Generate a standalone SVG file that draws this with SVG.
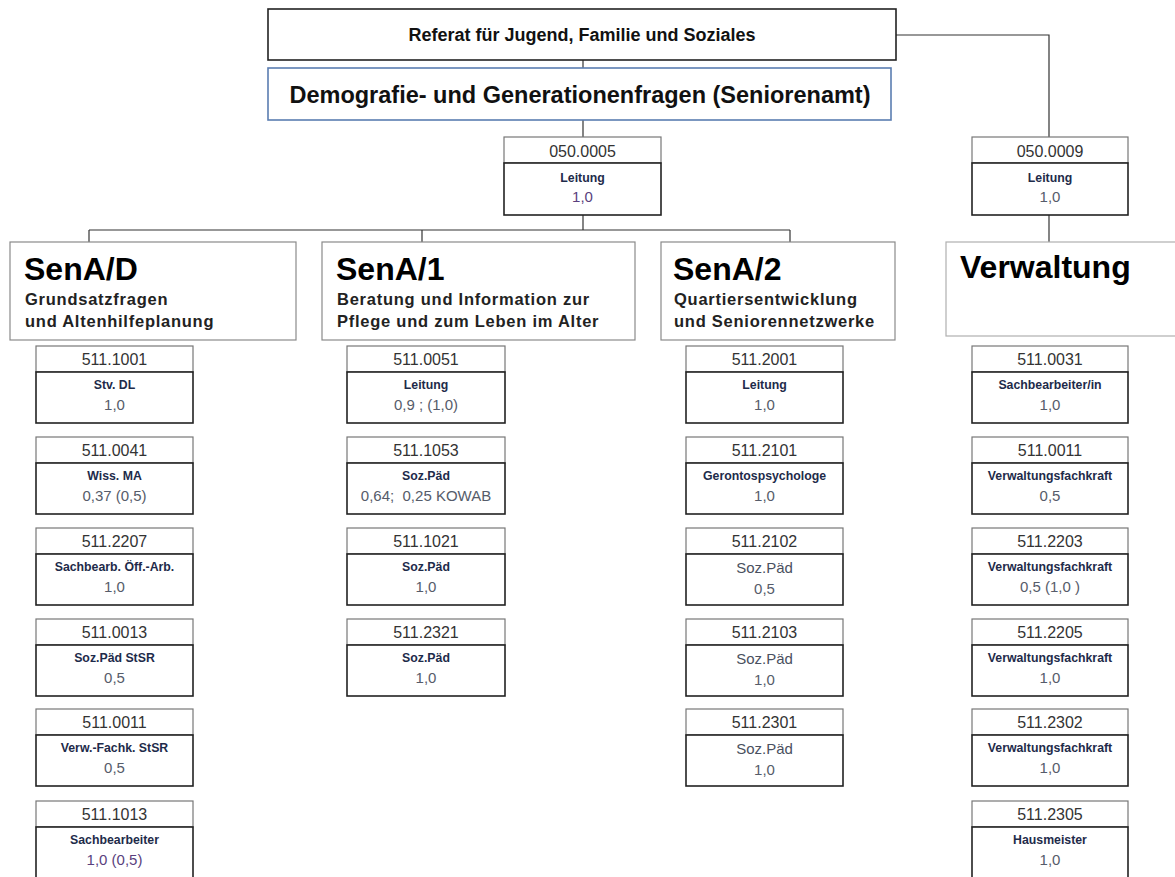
<svg xmlns="http://www.w3.org/2000/svg" width="1175" height="877" viewBox="0 0 1175 877">
<style>
.bg{fill:#ffffff}
.conn{stroke:#333;stroke-width:1.2;fill:none}
.top{fill:#fff;stroke:#222;stroke-width:1.6}
.demo{fill:#fff;stroke:#5b7db1;stroke-width:1.6}
.sec{fill:#fff;stroke:#8a8a8a;stroke-width:1.2}
.secv{fill:#fff;stroke:#b0b0b0;stroke-width:1.2}
.hd{fill:#fff;stroke:#777;stroke-width:1.2}
.bd{fill:#fff;stroke:#222;stroke-width:1.6}
.t1{font-family:"Liberation Sans",Arial,sans-serif;font-weight:bold;font-size:18px;fill:#111;text-anchor:middle}
.t2{font-family:"Liberation Sans",Arial,sans-serif;font-weight:bold;font-size:23.5px;fill:#111;text-anchor:middle}
.big{font-family:"Liberation Sans",Arial,sans-serif;font-weight:bold;font-size:32px;fill:#000}
.sub{font-family:"Liberation Sans",Arial,sans-serif;font-weight:bold;font-size:16.5px;letter-spacing:0.75px;fill:#222}
.code{font-family:"Liberation Sans",Arial,sans-serif;font-size:16px;fill:#333;text-anchor:middle}
.lab{font-family:"Liberation Sans",Arial,sans-serif;font-weight:bold;font-size:12.3px;fill:#1e2b4a;text-anchor:middle}
.labn{font-family:"Liberation Sans",Arial,sans-serif;font-size:15px;fill:#4a5060;text-anchor:middle}
.val{font-family:"Liberation Sans",Arial,sans-serif;font-size:15px;fill:#565c6a;text-anchor:middle}
.valp{font-family:"Liberation Sans",Arial,sans-serif;font-size:15px;fill:#5a3f7e;text-anchor:middle}
</style>
<rect class="bg" x="0" y="0" width="1175" height="877"/>
<g id="connectors">
<line class="conn" x1="583" y1="60" x2="583" y2="68"/>
<line class="conn" x1="583" y1="120" x2="583" y2="137"/>
<line class="conn" x1="583" y1="215" x2="583" y2="230"/>
<polyline class="conn" points="896,35 1049,35 1049,137"/>
<line class="conn" x1="1049" y1="215" x2="1049" y2="242"/>
<line class="conn" x1="89" y1="230" x2="790" y2="230"/>
<line class="conn" x1="89" y1="230" x2="89" y2="242"/>
<line class="conn" x1="422" y1="230" x2="422" y2="242"/>
<line class="conn" x1="790" y1="230" x2="790" y2="242"/>
</g>
<g id="referat">
<rect class="top" x="268" y="9" width="628" height="51"/>
<text class="t1" x="582" y="41">Referat für Jugend, Familie und Soziales</text>
</g>
<g id="demografie">
<rect class="demo" x="268" y="68" width="623" height="52"/>
<text class="t2" x="580" y="103">Demografie- und Generationenfragen (Seniorenamt)</text>
</g>
<g id="leitung-0005">
<rect class="hd" x="504" y="137" width="157" height="26"/>
<rect class="bd" x="504" y="163" width="157" height="52"/>
<text class="code" x="582.5" y="157">050.0005</text>
<text class="lab" x="582.5" y="182">Leitung</text>
<text class="valp" x="582.5" y="202">1,0</text>
</g>
<g id="leitung-0009">
<rect class="hd" x="972" y="137" width="156" height="26"/>
<rect class="bd" x="972" y="163" width="156" height="52"/>
<text class="code" x="1050" y="157">050.0009</text>
<text class="lab" x="1050" y="182">Leitung</text>
<text class="val" x="1050" y="202">1,0</text>
</g>
<g id="sena-d">
<rect class="sec" x="10" y="242" width="286" height="98"/>
<text class="big" x="24" y="280">SenA/D</text>
<text class="sub" x="25" y="305">Grundsatzfragen</text>
<text class="sub" x="25" y="327">und Altenhilfeplanung</text>
</g>
<g id="sena-1">
<rect class="sec" x="322" y="242" width="313" height="98"/>
<text class="big" x="336" y="280">SenA/1</text>
<text class="sub" x="337" y="305">Beratung und Information zur</text>
<text class="sub" x="337" y="327">Pflege und zum Leben im Alter</text>
</g>
<g id="sena-2">
<rect class="sec" x="661" y="242" width="234" height="98"/>
<text class="big" x="673" y="280">SenA/2</text>
<text class="sub" x="674" y="305">Quartiersentwicklung</text>
<text class="sub" x="674" y="327">und Seniorennetzwerke</text>
</g>
<g id="verwaltung">
<rect class="secv" x="946" y="242" width="240" height="94"/>
<text class="big" x="960" y="278">Verwaltung</text>
</g>
<!-- Column SenA/D -->
<g id="p511-1001"><rect class="hd" x="36" y="346" width="157" height="26"/><rect class="bd" x="36" y="372" width="157" height="51"/><text class="code" x="114.5" y="365">511.1001</text><text class="lab" x="114.5" y="389">Stv. DL</text><text class="val" x="114.5" y="410">1,0</text></g>
<g id="p511-0041"><rect class="hd" x="36" y="437" width="157" height="26"/><rect class="bd" x="36" y="463" width="157" height="51"/><text class="code" x="114.5" y="456">511.0041</text><text class="lab" x="114.5" y="480">Wiss. MA</text><text class="val" x="114.5" y="501">0,37 (0,5)</text></g>
<g id="p511-2207"><rect class="hd" x="36" y="528" width="157" height="26"/><rect class="bd" x="36" y="554" width="157" height="51"/><text class="code" x="114.5" y="547">511.2207</text><text class="lab" x="114.5" y="571">Sachbearb. Öff.-Arb.</text><text class="val" x="114.5" y="592">1,0</text></g>
<g id="p511-0013"><rect class="hd" x="36" y="619" width="157" height="26"/><rect class="bd" x="36" y="645" width="157" height="51"/><text class="code" x="114.5" y="638">511.0013</text><text class="lab" x="114.5" y="662">Soz.Päd StSR</text><text class="val" x="114.5" y="683">0,5</text></g>
<g id="p511-0011a"><rect class="hd" x="36" y="709" width="157" height="26"/><rect class="bd" x="36" y="735" width="157" height="51"/><text class="code" x="114.5" y="728">511.0011</text><text class="lab" x="114.5" y="752">Verw.-Fachk. StSR</text><text class="val" x="114.5" y="773">0,5</text></g>
<g id="p511-1013"><rect class="hd" x="36" y="801" width="157" height="26"/><rect class="bd" x="36" y="827" width="157" height="51"/><text class="code" x="114.5" y="820">511.1013</text><text class="lab" x="114.5" y="844">Sachbearbeiter</text><text class="valp" x="114.5" y="865">1,0 (0,5)</text></g>
<!-- Column SenA/1 -->
<g id="p511-0051"><rect class="hd" x="347" y="346" width="158" height="26"/><rect class="bd" x="347" y="372" width="158" height="51"/><text class="code" x="426" y="365">511.0051</text><text class="lab" x="426" y="389">Leitung</text><text class="val" x="426" y="410">0,9 ; (1,0)</text></g>
<g id="p511-1053"><rect class="hd" x="347" y="437" width="158" height="26"/><rect class="bd" x="347" y="463" width="158" height="51"/><text class="code" x="426" y="456">511.1053</text><text class="lab" x="426" y="480">Soz.Päd</text><text class="val" x="426" y="501">0,64;&#160; 0,25 KOWAB</text></g>
<g id="p511-1021"><rect class="hd" x="347" y="528" width="158" height="26"/><rect class="bd" x="347" y="554" width="158" height="51"/><text class="code" x="426" y="547">511.1021</text><text class="lab" x="426" y="571">Soz.Päd</text><text class="val" x="426" y="592">1,0</text></g>
<g id="p511-2321"><rect class="hd" x="347" y="619" width="158" height="26"/><rect class="bd" x="347" y="645" width="158" height="51"/><text class="code" x="426" y="638">511.2321</text><text class="lab" x="426" y="662">Soz.Päd</text><text class="val" x="426" y="683">1,0</text></g>
<!-- Column SenA/2 -->
<g id="p511-2001"><rect class="hd" x="686" y="346" width="157" height="26"/><rect class="bd" x="686" y="372" width="157" height="51"/><text class="code" x="764.5" y="365">511.2001</text><text class="lab" x="764.5" y="389">Leitung</text><text class="val" x="764.5" y="410">1,0</text></g>
<g id="p511-2101"><rect class="hd" x="686" y="437" width="157" height="26"/><rect class="bd" x="686" y="463" width="157" height="51"/><text class="code" x="764.5" y="456">511.2101</text><text class="lab" x="764.5" y="480">Gerontospsychologe</text><text class="val" x="764.5" y="501">1,0</text></g>
<g id="p511-2102"><rect class="hd" x="686" y="528" width="157" height="26"/><rect class="bd" x="686" y="554" width="157" height="51"/><text class="code" x="764.5" y="547">511.2102</text><text class="labn" x="764.5" y="573">Soz.Päd</text><text class="val" x="764.5" y="594">0,5</text></g>
<g id="p511-2103"><rect class="hd" x="686" y="619" width="157" height="26"/><rect class="bd" x="686" y="645" width="157" height="51"/><text class="code" x="764.5" y="638">511.2103</text><text class="labn" x="764.5" y="664">Soz.Päd</text><text class="val" x="764.5" y="685">1,0</text></g>
<g id="p511-2301"><rect class="hd" x="686" y="709" width="157" height="26"/><rect class="bd" x="686" y="735" width="157" height="51"/><text class="code" x="764.5" y="728">511.2301</text><text class="labn" x="764.5" y="754">Soz.Päd</text><text class="val" x="764.5" y="775">1,0</text></g>
<!-- Column Verwaltung -->
<g id="p511-0031"><rect class="hd" x="972" y="346" width="156" height="26"/><rect class="bd" x="972" y="372" width="156" height="51"/><text class="code" x="1050" y="365">511.0031</text><text class="lab" x="1050" y="389">Sachbearbeiter/in</text><text class="val" x="1050" y="410">1,0</text></g>
<g id="p511-0011b"><rect class="hd" x="972" y="437" width="156" height="26"/><rect class="bd" x="972" y="463" width="156" height="51"/><text class="code" x="1050" y="456">511.0011</text><text class="lab" x="1050" y="480">Verwaltungsfachkraft</text><text class="val" x="1050" y="501">0,5</text></g>
<g id="p511-2203"><rect class="hd" x="972" y="528" width="156" height="26"/><rect class="bd" x="972" y="554" width="156" height="51"/><text class="code" x="1050" y="547">511.2203</text><text class="lab" x="1050" y="571">Verwaltungsfachkraft</text><text class="val" x="1050" y="592">0,5 (1,0 )</text></g>
<g id="p511-2205"><rect class="hd" x="972" y="619" width="156" height="26"/><rect class="bd" x="972" y="645" width="156" height="51"/><text class="code" x="1050" y="638">511.2205</text><text class="lab" x="1050" y="662">Verwaltungsfachkraft</text><text class="val" x="1050" y="683">1,0</text></g>
<g id="p511-2302"><rect class="hd" x="972" y="709" width="156" height="26"/><rect class="bd" x="972" y="735" width="156" height="51"/><text class="code" x="1050" y="728">511.2302</text><text class="lab" x="1050" y="752">Verwaltungsfachkraft</text><text class="val" x="1050" y="773">1,0</text></g>
<g id="p511-2305"><rect class="hd" x="972" y="801" width="156" height="26"/><rect class="bd" x="972" y="827" width="156" height="51"/><text class="code" x="1050" y="820">511.2305</text><text class="lab" x="1050" y="844">Hausmeister</text><text class="val" x="1050" y="865">1,0</text></g>
</svg>
